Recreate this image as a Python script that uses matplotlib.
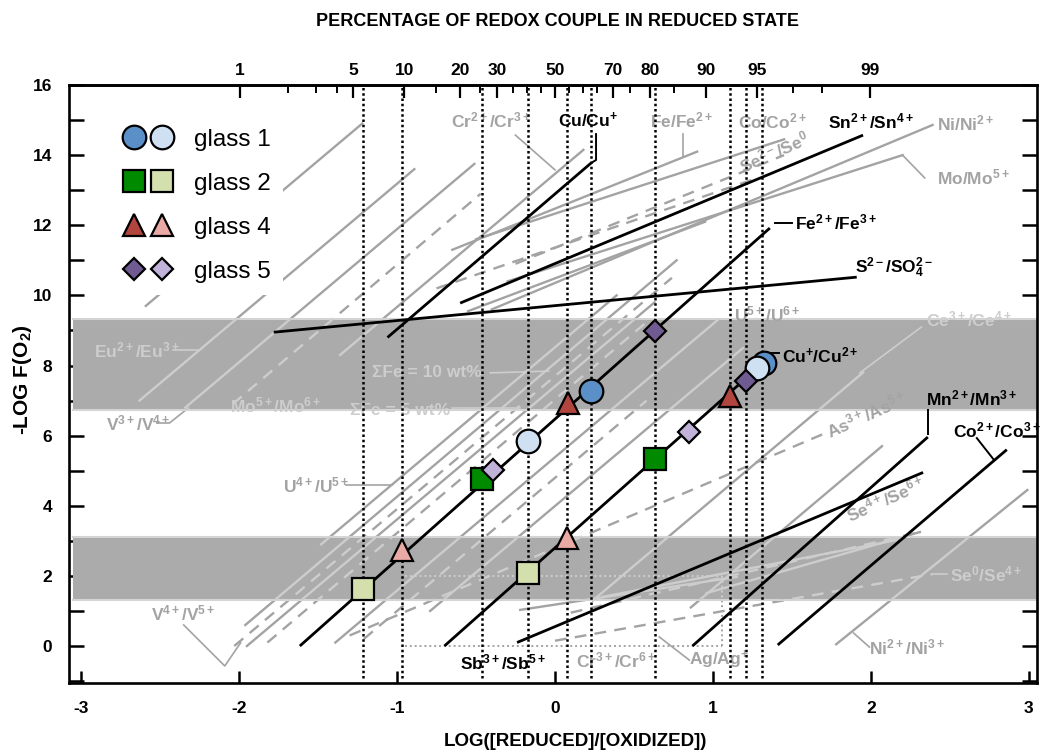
import numpy as np
import matplotlib
matplotlib.use('Agg')
import matplotlib.pyplot as plt
from matplotlib import font_manager
from matplotlib.lines import Line2D
from matplotlib.legend_handler import HandlerTuple
from matplotlib.path import Path


def pick_font(names):
    for n in names:
        try:
            font_manager.findfont(font_manager.FontProperties(family=n), fallback_to_default=False)
            return n
        except ValueError:
            pass
    return 'DejaVu Sans'


NARROW = pick_font(['Liberation Sans Narrow', 'Liberation Sans'])
plt.rcParams['font.family'] = [NARROW, 'DejaVu Sans']
plt.rcParams['font.weight'] = 'bold'
plt.rcParams['mathtext.fontset'] = 'custom'
plt.rcParams['mathtext.rm'] = NARROW + ':bold'
plt.rcParams['mathtext.it'] = NARROW + ':bold'
plt.rcParams['mathtext.bf'] = NARROW + ':bold'
plt.rcParams['mathtext.default'] = 'rm'

# ---- data ---------------------------------------------------------------
glass_names = ['glass 1', 'glass 2', 'glass 4', 'glass 5']
glass_markers = ['o', 's', '^', 'D']
glass_sizes = [17, 15.5, 16, 11.5]
dark_colors = ['#5b8fc7', '#008a00', '#b2453d', '#705a92']
light_colors = ['#cfe0f2', '#d3e0ae', '#e9a9a4', '#c0b2d8']

# (x, y) on Fe2+/Fe3+ and Cu+/Cu2+ lines, dark and light symbol per glass
fe_dark_x = [0.23, -0.46, 0.08, 0.63]
fe_dark_y = [7.28, 4.75, 6.93, 8.98]
fe_light_x = [-0.17, -1.215, -0.97, -0.39]
fe_light_y = [5.85, 1.63, 2.75, 5.02]
cu_dark_x = [1.32, 0.63, 1.11, 1.21]
cu_dark_y = [8.08, 5.32, 7.12, 7.55]
cu_light_x = [1.28, -0.17, 0.076, 0.85]
cu_light_y = [7.93, 2.08, 3.08, 6.10]

# vertical dotted guides (measured log ratios)
guide_x = [-1.215, -0.97, -0.46, -0.17, 0.076, 0.23, 0.63, 1.11, 1.21, 1.31]

# gray bands of -log fO2
band_lo = [6.72, 1.31]
band_hi = [9.33, 3.11]

# black redox couples: start / end points
blk_x0 = [-1.615, -0.70, -0.60, -1.78, -1.06, 0.87, 1.41, -0.24]
blk_y0 = [0.0, 0.0, 9.78, 8.95, 8.80, 0.0, 0.03, 0.10]
blk_x1 = [1.36, 1.32, 1.95, 1.91, 0.23, 2.36, 2.86, 2.33]
blk_y1 = [11.92, 8.08, 14.57, 10.52, 13.78, 5.96, 5.60, 4.95]

# gray redox couples from the original diagram
bg_x0 = [-2.59, -2.63, -2.34, -2.04, -1.36, -1.48, -1.96, -2.03, -1.95, -1.82,
         -1.39, -1.21, -0.79, 0.24, 0.86, 1.78, -0.65, -0.50, -0.25, -0.75,
         -0.40, -0.30, -0.55, -1.30, 0.10, 0.00, -0.22, 0.30, 0.96]
bg_y0 = [9.7, 7.0, 6.8, 6.9, 8.3, 2.9, 0.6, 0.0, 0.0, 0.1,
         0.1, 0.2, 1.0, 1.3, 1.1, 0.05, 11.3, 11.6, 10.9, 10.2,
         9.6, 10.4, 9.55, 0.3, 0.95, 0.15, 1.03, 1.40, 1.51]
bg_x1 = [-1.22, -0.89, -0.51, -0.47, 0.18, 0.39, 0.77, 0.74, 0.63, 0.57,
         1.03, 0.58, 1.19, 1.95, 2.07, 2.99, 0.90, 1.45, 1.45, 1.25,
         2.39, 2.20, 0.95, 1.70, 2.31, 2.39, 1.15, 2.16, 2.31]
bg_y1 = [14.9, 13.6, 13.75, 12.9, 14.15, 10.0, 11.0, 10.5, 9.8, 9.2,
         9.3, 7.0, 8.5, 7.8, 5.7, 4.45, 14.1, 14.45, 14.0, 13.3,
         14.86, 14.0, 12.1, 6.05, 3.25, 2.05, 1.97, 3.02, 3.25]
bg_dashed = [False, False, False, True, False, False, False, True, False, True,
             False, True, False, False, False, False, False, False, True, True,
             False, False, False, True, True, True, False, False, False]

# thin gray leader lines to the gray labels
lead_x = [[-2.42, -2.26], [-2.52, -2.44, -2.32], [-1.32, -1.03], [-2.35, -2.09, -1.99],
          [-0.41, -0.04], [-0.65, -0.22], [-0.25, 0.0], [0.81, 0.81], [2.20, 2.34],
          [1.93, 2.32], [2.39, 2.48], [1.89, 1.99], [0.66, 0.85]]
lead_y = [[8.44, 8.44], [6.36, 6.36, 6.79], [4.59, 4.59], [0.6, -0.57, 0.09],
          [7.79, 7.84], [6.79, 6.79], [14.57, 13.58], [14.6, 13.98], [14.0, 13.35],
          [7.79, 9.1], [2.05, 2.05], [0.37, -0.03], [0.26, -0.40]]
# black leaders / brackets
blead_x = [[0.23, 0.26, 0.26], [1.39, 1.50], [1.36, 1.42], [2.36, 2.36], [2.67, 2.78]]
blead_y = [[13.78, 13.86, 14.6], [12.05, 12.05], [8.36, 8.36], [6.05, 6.73], [5.93, 5.30]]

blk_labels = [r'Sn$^{2+}$/Sn$^{4+}$', r'Fe$^{2+}$/Fe$^{3+}$', r'S$^{2-}$/SO$_4^{2-}$',
              r'Cu$^{+}$/Cu$^{2+}$', r'Mn$^{2+}$/Mn$^{3+}$', r'Co$^{2+}$/Co$^{3+}$',
              r'Cu/Cu$^{+}$', r'Sb$^{3+}$/Sb$^{5+}$']
blk_lab_x = [1.73, 1.52, 1.90, 1.44, 2.35, 2.52, 0.02, -0.60]
blk_lab_y = [14.95, 12.09, 10.8, 8.3, 7.07, 6.16, 15.0, -0.48]

gray_labels = [r'Cr$^{2+}$/Cr$^{3+}$', r'Fe/Fe$^{2+}$', r'Co/Co$^{2+}$', r'Ni/Ni$^{2+}$',
               r'Mo/Mo$^{5+}$', r'Ce$^{3+}$/Ce$^{4+}$', r'U$^{5+}$/U$^{6+}$',
               r'Se$^{0}$/Se$^{4+}$', r'Ni$^{2+}$/Ni$^{3+}$', r'Ag/Ag$^{+}$',
               r'Cr$^{3+}$/Cr$^{6+}$', r'Eu$^{2+}$/Eu$^{3+}$', r'V$^{3+}$/V$^{4+}$',
               r'Mo$^{5+}$/Mo$^{6+}$', 'ΣFe = 10 wt%', 'ΣFe = 5 wt%',
               r'U$^{4+}$/U$^{5+}$', r'V$^{4+}$/V$^{5+}$']
gray_lab_x = [-0.66, 0.60, 1.16, 2.42, 2.42, 2.35, 1.13, 2.50, 1.99, 0.85,
              0.13, -2.92, -2.84, -2.06, -1.16, -1.30, -1.72, -2.56]
gray_lab_y = [15.0, 15.0, 14.95, 14.9, 13.35, 9.3, 9.45, 2.03, -0.03, -0.40,
              -0.40, 8.44, 6.36, 6.85, 7.79, 6.73, 4.59, 0.94]
rot_labels = [r'Se$^{2-}$/Se$^{0}$', r'As$^{3+}$/As$^{5+}$', r'Se$^{4+}$/Se$^{6+}$']
rot_lab_x = [1.39, 1.97, 2.09]
rot_lab_y = [14.1, 6.6, 4.2]

# gray dotted reference lines
dot_x = [[-0.95, 1.06], [-0.95, 1.06], [1.06, 1.06]]
dot_y = [[2.0, 2.0], [0.0, 0.0], [0.0, 2.0]]

pct_major = [1, 5, 10, 20, 30, 50, 70, 80, 90, 95, 99]
pct_minor = [2, 3, 4, 15, 25, 35, 40, 45, 55, 60, 65, 75, 85, 97, 98]

GRAY = '#a3a3a3'
GRAY_IN = '#cdcdcd'
BAND = '#ababab'

fig = plt.figure(figsize=(10.5, 7.53), dpi=100)
ax = fig.add_axes([69 / 1050, 1 - 683 / 753, (1037 - 69) / 1050, (683 - 85) / 753])
ax.set_xlim(-3.076, 3.051)
ax.set_ylim(-1.055, 16.0)

# bands + clip path used to lighten things that sit inside them
verts, codes = [], []
for lo, hi in zip(band_lo, band_hi):
    verts += [(-4, lo), (4, lo), (4, hi), (-4, hi), (-4, lo)]
    codes += [Path.MOVETO, Path.LINETO, Path.LINETO, Path.LINETO, Path.CLOSEPOLY]
band_path = Path(verts, codes)
for lo, hi in zip(band_lo, band_hi):
    ax.axhspan(lo, hi, xmin=0.004, xmax=1.0, color=BAND, lw=0, zorder=2)
    ax.axhline(lo, xmin=0.004, color='#d4d4d4', lw=1.5, zorder=2.05)
    ax.axhline(hi, xmin=0.004, color='#d4d4d4', lw=1.5, zorder=2.05)


def gray_plot(xs, ys, ls='-', lw=1.7):
    ax.plot(xs, ys, color=GRAY, lw=lw, ls=ls, zorder=1)
    ln, = ax.plot(xs, ys, color=GRAY_IN, lw=lw, ls=ls, zorder=2.5)
    ln.set_clip_path(band_path, ax.transData)


for x0, y0, x1, y1, d in zip(bg_x0, bg_y0, bg_x1, bg_y1, bg_dashed):
    gray_plot([x0, x1], [y0, y1], ls=(0, (5, 3.5)) if d else '-')
for xs, ys in zip(lead_x, lead_y):
    gray_plot(xs, ys, lw=1.2)
for xs, ys in zip(dot_x, dot_y):
    gray_plot(xs, ys, ls=(0, (1, 1.5)), lw=1.4)


def in_band(y):
    return any(lo <= y <= hi for lo, hi in zip(band_lo, band_hi))


for t, x, y in zip(gray_labels, gray_lab_x, gray_lab_y):
    ax.text(x, y, t, color=GRAY_IN if in_band(y) else GRAY, fontsize=12.5,
            ha='left', va='center', zorder=2.6)
for t, x, y in zip(rot_labels, rot_lab_x, rot_lab_y):
    ax.text(x, y, t, color=GRAY, fontsize=12.5, ha='center', va='center',
            rotation=24, zorder=2.6)

# black couples
for x0, y0, x1, y1 in zip(blk_x0, blk_y0, blk_x1, blk_y1):
    ax.plot([x0, x1], [y0, y1], color='black', lw=2.0, zorder=3, solid_capstyle='butt')
for xs, ys in zip(blead_x, blead_y):
    ax.plot(xs, ys, color='black', lw=1.4, zorder=3)
for t, x, y in zip(blk_labels, blk_lab_x, blk_lab_y):
    ax.text(x, y, t, color='black', fontsize=12.5, ha='left', va='center', zorder=3)

# dotted verticals through the measured ratios
for gx in guide_x:
    ax.plot([gx, gx], [-0.9, 16.0], color='black', lw=1.8, ls=(0, (1, 1.1)), zorder=4)

# glass symbols
handles = []
for i in range(4):
    kw = dict(ls='none', marker=glass_markers[i], ms=glass_sizes[i], mec='black', mew=1.6)
    ax.plot([fe_dark_x[i], cu_dark_x[i]], [fe_dark_y[i], cu_dark_y[i]], mfc=dark_colors[i], zorder=5, **kw)
    ax.plot([fe_light_x[i], cu_light_x[i]], [fe_light_y[i], cu_light_y[i]], mfc=light_colors[i], zorder=5, **kw)
    handles.append((Line2D([], [], mfc=dark_colors[i], **kw), Line2D([], [], mfc=light_colors[i], **kw)))

leg = ax.legend(handles, glass_names, handler_map={tuple: HandlerTuple(ndivide=None, pad=0.3)},
                loc='upper left', bbox_to_anchor=(0.044, 0.947), borderaxespad=0,
                prop={'family': 'Liberation Sans', 'weight': 'normal', 'size': 17.5},
                handlelength=2.0, handletextpad=0.9, labelspacing=0.9, borderpad=0.5,
                frameon=True, fancybox=False, facecolor='white', edgecolor='none', framealpha=1)
leg.set_zorder(6)

# axes styling
for sp in ax.spines.values():
    sp.set_linewidth(1.9)
ax.set_xticks([-3, -2, -1, 0, 1, 2, 3])
ax.set_xticklabels(['-3', '-2', '-1', '0', '1', '2', '3'])
ax.set_yticks(range(0, 17, 2))
ax.set_yticks(range(-1, 16, 2), minor=True)
ax.tick_params(axis='y', which='both', direction='in', length=11, width=1.8,
               right=True, labelsize=12.5, pad=12)
ax.tick_params(axis='x', which='both', direction='in', length=9, width=1.8,
               labelsize=12.5, pad=13)

top = ax.secondary_xaxis('top')
top.set_xticks([np.log10(p / (100 - p)) for p in pct_major])
top.set_xticklabels([str(p) for p in pct_major])
top.set_xticks([np.log10(p / (100 - p)) for p in pct_minor], minor=True)
top.tick_params(which='major', direction='in', length=9, width=1.6, labelsize=12.5, pad=5)
top.tick_params(which='minor', direction='in', length=6, width=1.4)
top.spines['top'].set_linewidth(1.9)

fig.text(0.531, 0.971, 'PERCENTAGE OF REDOX COUPLE IN REDUCED STATE', ha='center', va='center',
         fontsize=13)
fig.text(0.548, 1 - 742 / 753, 'LOG([REDUCED]/[OXIDIZED])', ha='center', va='center', fontsize=13.5)
fig.text(22 / 1050, 1 - 380 / 753, r'-LOG F(O$_2$)', ha='center', va='center', rotation=90,
         fontsize=15)

fig.savefig('out.png', dpi=100)
